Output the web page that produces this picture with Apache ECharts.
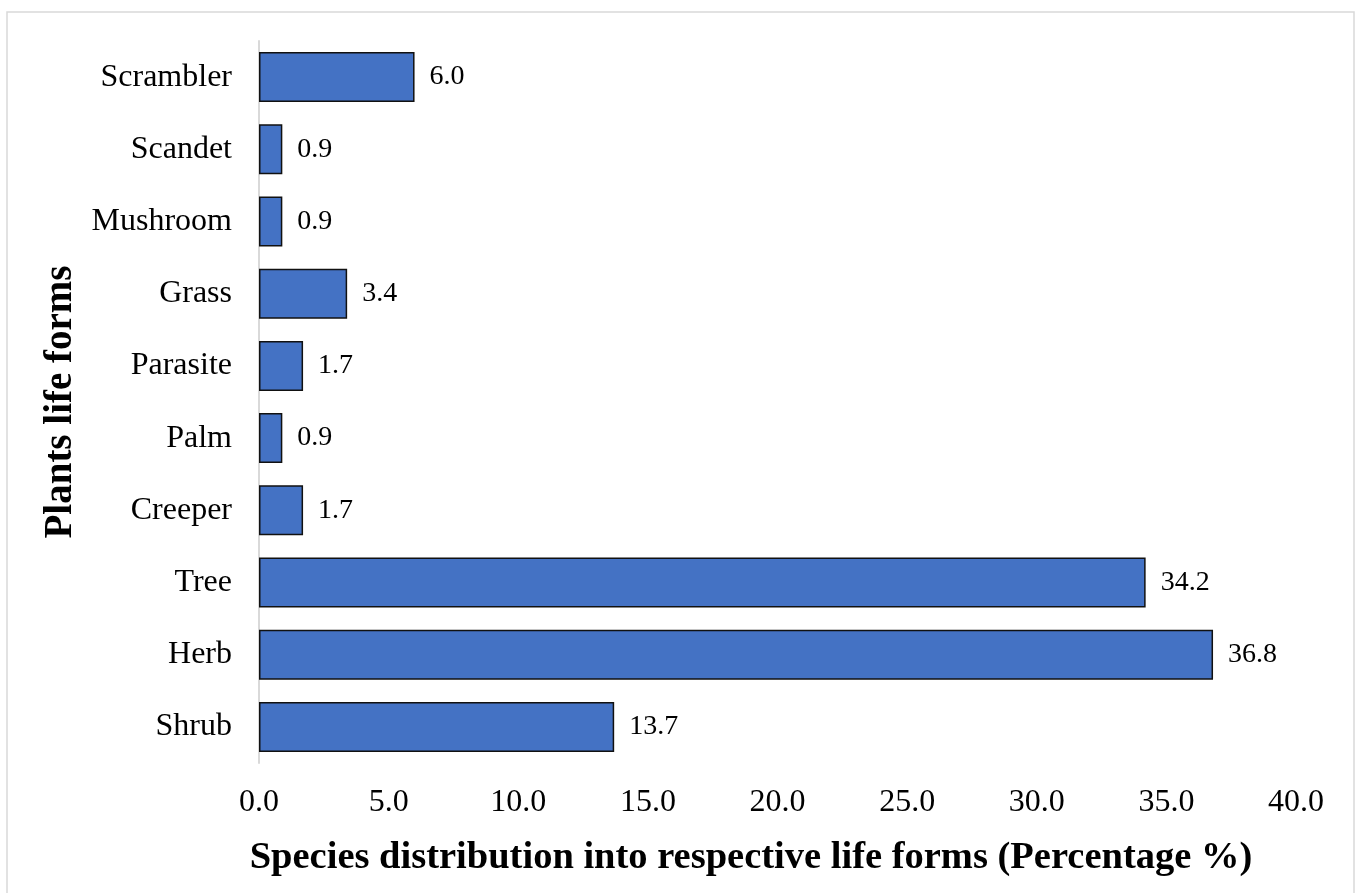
<!DOCTYPE html>
<html>
<head>
<meta charset="utf-8">
<script src="https://cdn.jsdelivr.net/npm/echarts@6/dist/echarts.min.js"></script>
<style>
  html, body { margin: 0; padding: 0; background: #ffffff; }
  #chart { width: 1359px; height: 893px; }
</style>
</head>
<body>
<div id="chart"></div>
<script>
// Life form categories, listed bottom-to-top as the category axis draws them
const lifeForms = ['Shrub', 'Herb', 'Tree', 'Creeper', 'Palm', 'Parasite', 'Grass', 'Mushroom', 'Scandet', 'Scrambler'];
// Share of species in each life form (%)
const percentages = [13.7, 36.8, 34.2, 1.7, 0.9, 1.7, 3.4, 0.9, 0.9, 6.0];
// Value axis ticks
const xTicks = [0, 5, 10, 15, 20, 25, 30, 35, 40];

const xTitle = 'Species distribution into respective life forms (Percentage %)';
const yTitle = 'Plants life forms';

const serif = '"Liberation Serif", "Times New Roman", serif';
const chart = echarts.init(document.getElementById('chart'));

chart.setOption({
  backgroundColor: '#ffffff',
  animation: false,
  textStyle: { fontFamily: serif, color: '#000000' },
  title: {
    text: xTitle,
    left: 746,
    top: 834,
    textAlign: 'center',
    textStyle: { fontFamily: serif, fontWeight: 'bold', fontSize: 38.5, color: '#000000' }
  },
  graphic: [{
    type: 'rect',
    shape: { x: 7, y: 12, width: 1347, height: 900 },
    style: { fill: 'none', stroke: '#d9d9d9', lineWidth: 1.5 },
    silent: true
  }],
  grid: { left: 259, right: 63, top: 41, bottom: 130, containLabel: false },
  xAxis: {
    type: 'value',
    min: xTicks[0],
    max: xTicks[xTicks.length - 1],
    interval: xTicks[1] - xTicks[0],
    axisLine: { show: false },
    axisTick: { show: false },
    splitLine: { show: false },
    axisLabel: {
      margin: 24,
      fontFamily: serif,
      fontSize: 32,
      color: '#000000',
      formatter: v => v.toFixed(1)
    }
  },
  yAxis: {
    type: 'category',
    data: lifeForms,
    name: yTitle,
    nameLocation: 'middle',
    nameGap: 171,
    nameRotate: 90,
    nameTextStyle: { fontFamily: serif, fontWeight: 'bold', fontSize: 39, color: '#000000' },
    axisLine: { show: true, lineStyle: { color: '#d9d9d9', width: 2 } },
    axisTick: { show: false },
    axisLabel: { margin: 27, fontFamily: serif, fontSize: 32, color: '#000000' }
  },
  series: [{
    type: 'bar',
    data: percentages,
    barWidth: 50,
    itemStyle: { color: '#4472c4', borderColor: '#111111', borderWidth: 1.5 },
    label: {
      show: true,
      position: 'right',
      distance: 15,
      fontFamily: serif,
      fontSize: 28,
      color: '#000000',
      formatter: p => p.value.toFixed(1)
    }
  }]
});
</script>
</body>
</html>
